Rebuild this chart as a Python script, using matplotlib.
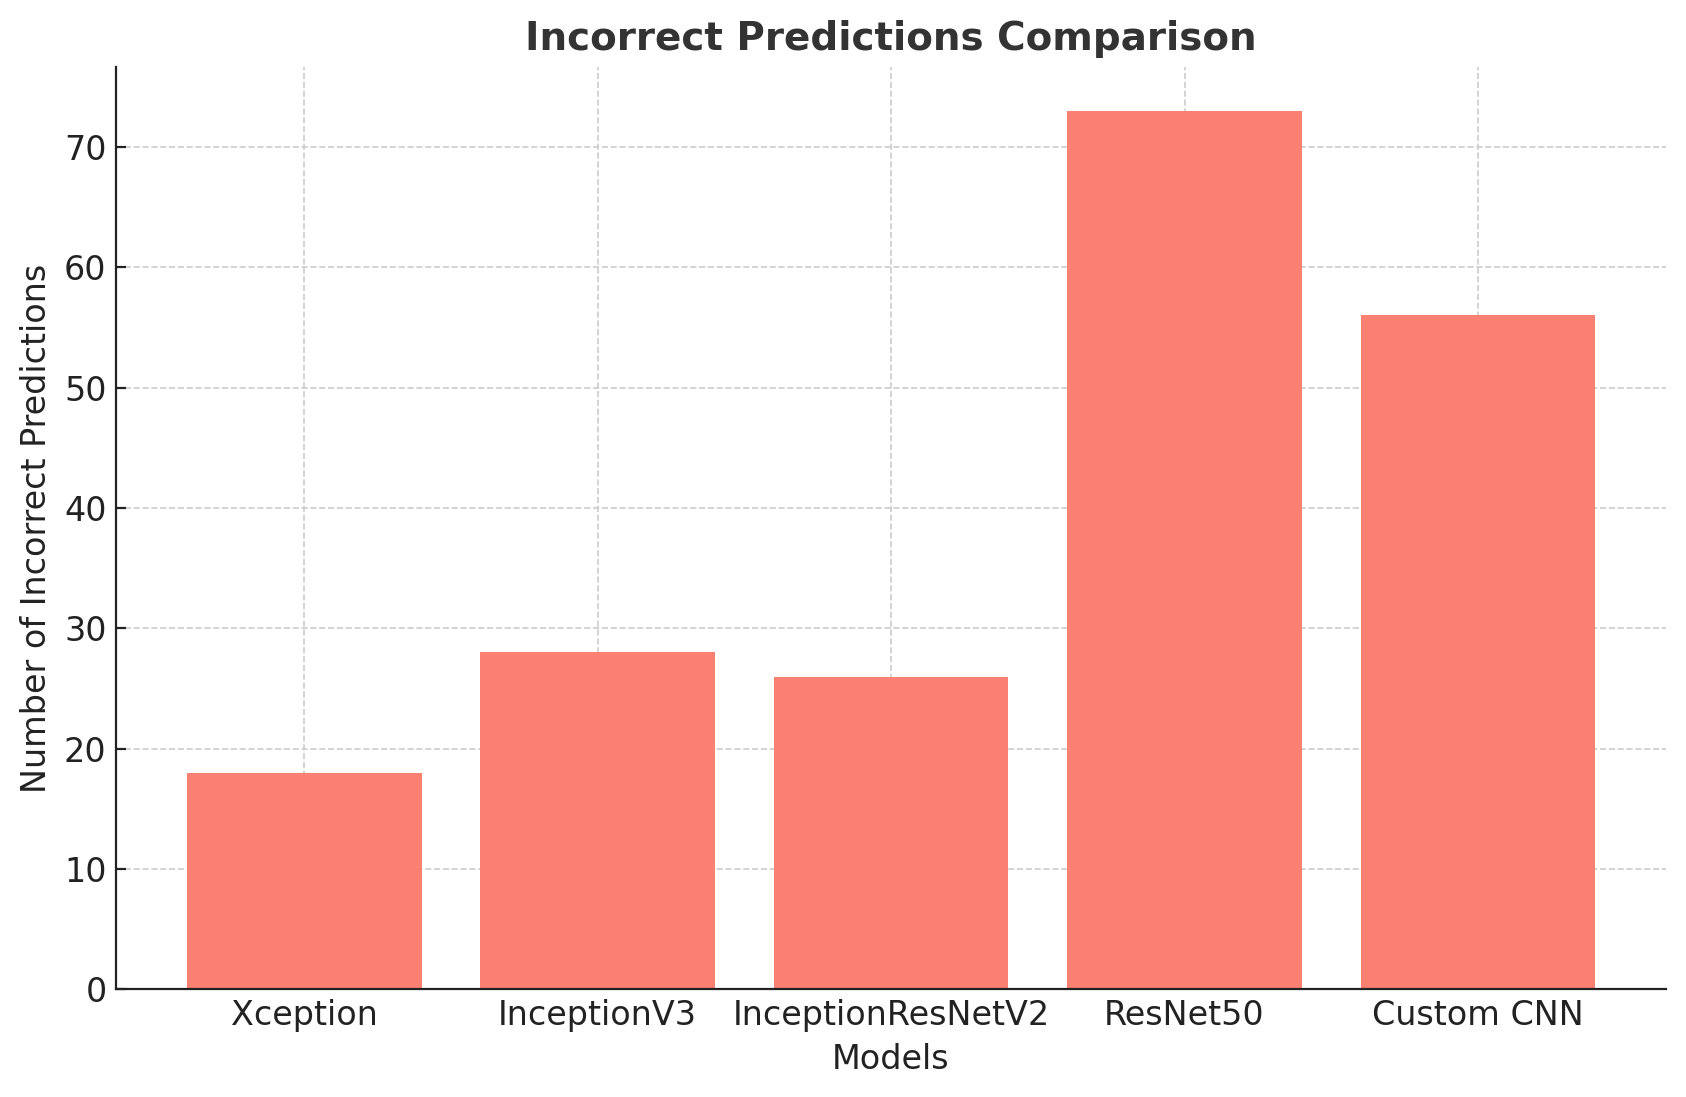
import matplotlib
matplotlib.use("Agg")
import matplotlib.pyplot as plt

models = ["Xception", "InceptionV3", "InceptionResNetV2", "ResNet50", "Custom CNN"]
incorrect = [18, 28, 26, 73, 56]

plt.rcParams['font.family'] = ['DejaVu Sans']
fig, ax = plt.subplots(figsize=(8.43, 5.485), dpi=200)
fig.subplots_adjust(left=0.069, right=0.988, top=0.939, bottom=0.098)

ax.bar(models, incorrect, color="#FA8072", width=0.8, zorder=2)
ax.set_title("Incorrect Predictions Comparison", fontsize=14, fontweight="bold", color="#333333")
ax.set_xlabel("Models", fontsize=12, color="#222222")
ax.set_ylabel("Number of Incorrect Predictions", fontsize=12, color="#222222")
ax.tick_params(axis="both", labelsize=12, colors="#222222", length=3.5, direction="in")
ax.grid(True, linestyle="--", color="#cccccc", linewidth=0.6, zorder=0)
ax.spines["top"].set_visible(False)
ax.spines["right"].set_visible(False)
for s in ("left", "bottom"):
    ax.spines[s].set_color("#222222")
ax.set_axisbelow(True)

fig.savefig("out.png", dpi=200)
